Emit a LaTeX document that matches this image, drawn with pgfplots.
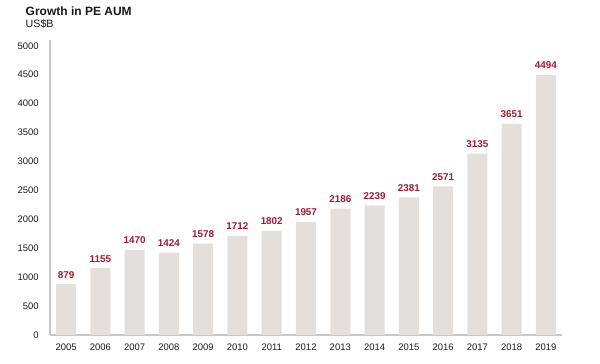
\documentclass[border=0pt]{standalone}
\usepackage{pgfplots}
\pgfplotsset{compat=1.18}
\usepackage{fontspec}
\setmainfont{Liberation Sans}
\definecolor{barc}{HTML}{E3E0DC}
\definecolor{labc}{HTML}{9E1B32}
\definecolor{axc}{HTML}{C8C8C8}
\begin{document}
\begin{tikzpicture}[x=0.75pt,y=0.75pt]
\useasboundingbox (-50,-29) rectangle (550,335);
\begin{axis}[
  at={(0,0)}, anchor=south west,
  scale only axis,
  width=384pt, height=221.25pt,
  xmin=-0.47, xmax=14.47,
  ymin=0, ymax=5100,
  ytick={0,500,...,5000},
  xtick={0,...,14},
  xticklabels={2005,2006,2007,2008,2009,2010,2011,2012,2013,2014,2015,2016,2017,2018,2019},
  axis x line*=bottom, axis y line*=left,
  axis line style={axc, line width=1.1pt, -},
  major tick length=0pt,
  tick label style={font=\fontsize{7.1}{8}\selectfont, text=black!90},
  yticklabel style={xshift=-5pt},
  xticklabel style={yshift=-3pt},
  /pgf/number format/assume math mode=true,
  scaled y ticks=false,
  yticklabel={\pgfmathprintnumber[fixed,1000 sep={}]{\tick}},
  clip=false,
]
\addplot[ybar, bar width=15pt, fill=barc, draw=none,
  nodes near coords,
  every node near coord/.append style={font=\fontsize{7.4}{8}\selectfont\bfseries, text=labc, yshift=1pt},
  point meta=y,
  nodes near coords={\pgfmathprintnumber[fixed,1000 sep={}]{\pgfplotspointmeta}},
] coordinates {
(0,879) (1,1155) (2,1470) (3,1424) (4,1578) (5,1712) (6,1802) (7,1957)
(8,2186) (9,2239) (10,2381) (11,2571) (12,3135) (13,3651) (14,4494)
};
\end{axis}
\node[anchor=west, font=\fontsize{9}{10}\selectfont\bfseries, text=black!90] at (-29,324) {Growth in PE AUM};
\node[anchor=west, font=\fontsize{8}{9}\selectfont, text=black!90] at (-29,311) {US\$B};
\end{tikzpicture}
\end{document}
